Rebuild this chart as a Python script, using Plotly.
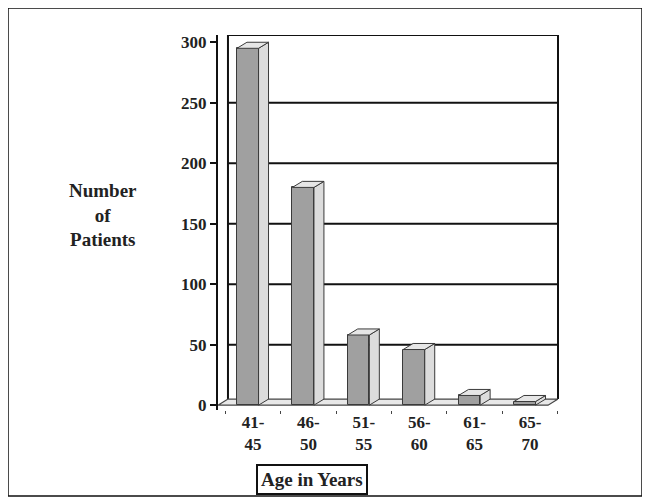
import plotly.graph_objects as go

categories = ["41-<br>45", "46-<br>50", "51-<br>55", "56-<br>60", "61-<br>65", "65-<br>70"]
patients = [295, 180, 58, 46, 8, 3]
y_ticks = [0, 50, 100, 150, 200, 250, 300]

# geometry (data units)
FRONT_L, FRONT_R = -0.29, 0.10   # front face relative to category centre
DX, DY = 0.18, 5                  # 3D depth offsets
XR = [-0.632, 5.505]
YR = [-4, 306]
PLOT_W = 340
PLOT_H = 375
OFF = 8                           # page body margin
L, T = 218 - OFF, 35 - OFF
WALL_X0 = DX / (XR[1] - XR[0])   # wall left edge in paper units

xs = list(range(len(categories)))

side_x, side_y, top_x, top_y = [], [], [], []
for c, v in zip(xs, patients):
    side_x += [c + FRONT_R, c + FRONT_R + DX, c + FRONT_R + DX, c + FRONT_R, c + FRONT_R, None]
    side_y += [0, DY, v + DY, v, 0, None]
    top_x += [c + FRONT_L, c + FRONT_R, c + FRONT_R + DX, c + FRONT_L + DX, c + FRONT_L, None]
    top_y += [v, v, v + DY, v + DY, v, None]

fig = go.Figure()
fig.add_trace(go.Scatter(x=side_x, y=side_y, fill="toself", mode="lines",
                         fillcolor="#dcdcdc", line=dict(color="#3a3a3a", width=1),
                         hoverinfo="skip", showlegend=False))
fig.add_trace(go.Scatter(x=top_x, y=top_y, fill="toself", mode="lines",
                         fillcolor="#e6e6e6", line=dict(color="#3a3a3a", width=1),
                         hoverinfo="skip", showlegend=False))
fig.add_trace(go.Bar(x=xs, y=patients, width=FRONT_R - FRONT_L, offset=FRONT_L,
                     marker=dict(color="#a0a0a0", line=dict(color="#3a3a3a", width=1)),
                     showlegend=False))

def px_x(p):
    return (p - 218) / PLOT_W
def px_y(p):
    return (410 - p) / PLOT_H

shapes = []
# floor
shapes.append(dict(type="path", xref="x", yref="y", layer="below",
                   path=f"M {XR[0]},0 L {XR[1]-DX},0 L {XR[1]},{DY} L {XR[0]+DX},{DY} Z",
                   fillcolor="#e8e8e8", line=dict(color="#444", width=1.2)))
# gridlines on back wall
for t in y_ticks[1:-1]:
    shapes.append(dict(type="line", xref="paper", yref="y", layer="below",
                       x0=WALL_X0, x1=1, y0=t, y1=t, line=dict(color="#111", width=2)))
# back wall outline
shapes.append(dict(type="path", xref="paper", yref="y", layer="below",
                   path=f"M {WALL_X0},{DY} L {WALL_X0},{YR[1]} L 1,{YR[1]} L 1,{DY}",
                   line=dict(color="#111", width=2)))
# outer frame
shapes.append(dict(type="rect", xref="paper", yref="paper",
                   x0=px_x(8), x1=px_x(642), y0=px_y(496), y1=px_y(8),
                   line=dict(color="#111", width=1.5)))

fig.update_layout(
    width=650 - OFF, height=503 - OFF,
    margin=dict(l=L, r=650 - OFF - L - PLOT_W, t=T, b=503 - OFF - T - PLOT_H, autoexpand=False),
    paper_bgcolor="white", plot_bgcolor="white",
    shapes=shapes,
    bargap=0,
    xaxis=dict(range=XR, tickvals=xs, ticktext=categories, showgrid=False, zeroline=False,
               showline=False, ticks="", automargin=False,
               tickfont=dict(family="Liberation Serif", size=17, color="#222", weight="bold"),
               minor=dict(tick0=0.5, dtick=1, ticks="outside", ticklen=3, tickcolor="#444")),
    yaxis=dict(range=YR, tickvals=y_ticks, showgrid=False, zeroline=False, automargin=False,
               showline=True, linecolor="#111", linewidth=2, ticks="outside", ticklen=6,
               tickcolor="#111", tickwidth=1.5,
               tickfont=dict(family="Liberation Serif", size=17, color="#222", weight="bold")),
    annotations=[
        dict(xref="paper", yref="paper", x=px_x(103), y=px_y(215),
             xanchor="center", yanchor="middle",
             text="Number<br>of<br>Patients", showarrow=False,
             font=dict(family="Liberation Serif", size=19, color="#222", weight="bold")),
        dict(xref="paper", yref="paper", x=px_x(312), y=px_y(479),
             xanchor="center", yanchor="middle",
             text="Age in Years", showarrow=False, bordercolor="#111", borderwidth=2,
             borderpad=3,
             font=dict(family="Liberation Serif", size=19, color="#222", weight="bold")),
    ],
)

fig.write_html("out.html")
